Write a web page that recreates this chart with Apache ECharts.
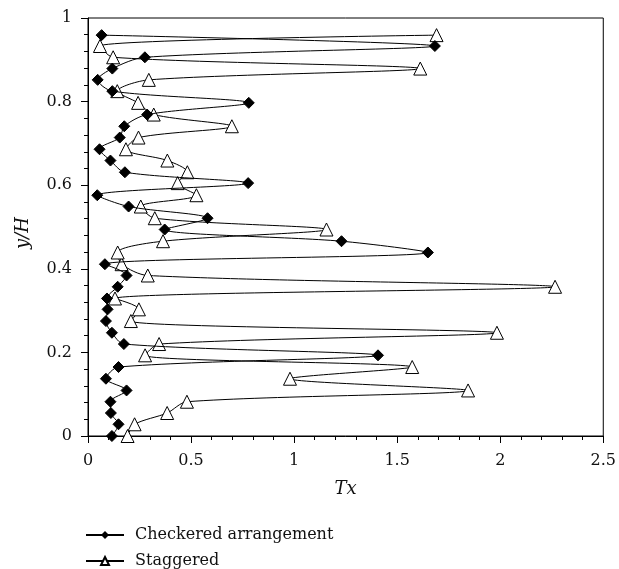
<!DOCTYPE html>
<html>
<head>
<meta charset="utf-8">
<script src="https://cdn.jsdelivr.net/npm/echarts@6/dist/echarts.min.js"></script>
<style>
html, body { margin: 0; padding: 0; background: #fff; }
#chart { width: 619px; height: 569px; }
</style>
</head>
<body>
<div id="chart"></div>
<script>
// y/H positions shared by both series
const yPos = [0.000, 0.028, 0.055, 0.082, 0.109, 0.137, 0.165, 0.193, 0.220, 0.247,
              0.275, 0.303, 0.329, 0.357, 0.384, 0.411, 0.439, 0.466, 0.494, 0.521,
              0.549, 0.576, 0.605, 0.631, 0.659, 0.686, 0.714, 0.741, 0.769, 0.797,
              0.825, 0.852, 0.879, 0.906, 0.933, 0.959];

const checkeredTx = [0.116, 0.148, 0.111, 0.109, 0.187, 0.087, 0.148, 1.407, 0.174, 0.116,
                     0.087, 0.095, 0.092, 0.144, 0.187, 0.082, 1.649, 1.230, 0.372, 0.580,
                     0.197, 0.045, 0.777, 0.179, 0.109, 0.056, 0.154, 0.176, 0.287, 0.780,
                     0.118, 0.047, 0.118, 0.276, 1.683, 0.066];

const staggeredTx = [0.192, 0.226, 0.384, 0.480, 1.844, 0.980, 1.573, 0.277, 0.345, 1.984,
                     0.208, 0.247, 0.131, 2.266, 0.290, 0.163, 0.144, 0.364, 1.157, 0.324,
                     0.256, 0.526, 0.435, 0.482, 0.385, 0.184, 0.245, 0.698, 0.319, 0.243,
                     0.142, 0.295, 1.612, 0.122, 0.058, 1.691];

const xTicks = ['0', '0.5', '1', '1.5', '2', '2.5'];
const seriesNames = ['Checkered arrangement', 'Staggered'];

const serif = '"DejaVu Serif", "Liberation Serif", serif';

let chart = echarts.init(document.getElementById('chart'));

function pairs(xs){
    return xs.map((x, i) => [x, yPos[i]]);
}

function legendAt(name, top){
    return {
        data: [name],
        left: 85,
        top: top,
        padding: 0,
        itemWidth: 38,
        itemHeight: 10,
        textStyle: { fontFamily: serif, fontSize: 16, color: '#111', padding: [0, 0, 0, 6] }
    };
}

chart.setOption({
    animation: false,
    grid: {
        left: 88,
        right: 14,
        top: 18,
        bottom: 133,
        show: true,
        borderColor: '#000',
        borderWidth: 1
    },
    legend: [
        legendAt(seriesNames[0], 527),
        legendAt(seriesNames[1], 553)
    ],
    xAxis: {
        type: 'value',
        min: 0,
        max: 2.5,
        interval: 0.5,
        name: 'Tx',
        nameLocation: 'middle',
        nameGap: 44,
        nameTextStyle: { fontFamily: serif, fontSize: 18, fontStyle: 'italic', color: '#111' },
        axisLine: { lineStyle: { color: '#000', width: 1 } },
        axisTick: { inside: false, length: 7, lineStyle: { color: '#000' } },
        minorTick: { show: true, splitNumber: 5, length: 4, lineStyle: { color: '#000' } },
        splitLine: { show: false },
        axisLabel: {
            fontFamily: serif, fontSize: 16, color: '#111', margin: 17,
            formatter: function (v) { return xTicks[Math.round(v / 0.5)]; }
        }
    },
    yAxis: {
        type: 'value',
        min: 0,
        max: 1,
        interval: 0.2,
        name: 'y/H',
        nameLocation: 'middle',
        nameGap: 56,
        nameTextStyle: { fontFamily: serif, fontSize: 18, fontStyle: 'italic', color: '#111', padding: [0, 12, 0, 0] },
        axisLine: { show: true, lineStyle: { color: '#000', width: 1 } },
        axisTick: { show: true, inside: false, length: 7, lineStyle: { color: '#000' } },
        minorTick: { show: true, splitNumber: 5, length: 4, lineStyle: { color: '#000' } },
        splitLine: { show: false },
        axisLabel: {
            fontFamily: serif, fontSize: 16, color: '#111', margin: 16,
            formatter: function (v) { return String(Math.round(v * 10) / 10); }
        }
    },
    series: [
        {
            name: seriesNames[0],
            type: 'line',
            data: pairs(checkeredTx),
            smooth: 0.3,
            symbol: 'diamond',
            symbolSize: 11,
            itemStyle: { color: '#000', borderColor: '#000' },
            lineStyle: { color: '#000', width: 1 },
            z: 3
        },
        {
            name: seriesNames[1],
            type: 'line',
            data: pairs(staggeredTx),
            smooth: 0.3,
            symbol: 'triangle',
            symbolSize: 13,
            itemStyle: { color: '#fff', borderColor: '#000', borderWidth: 1 },
            lineStyle: { color: '#000', width: 1 },
            z: 2
        }
    ]
});
</script>
</body>
</html>
